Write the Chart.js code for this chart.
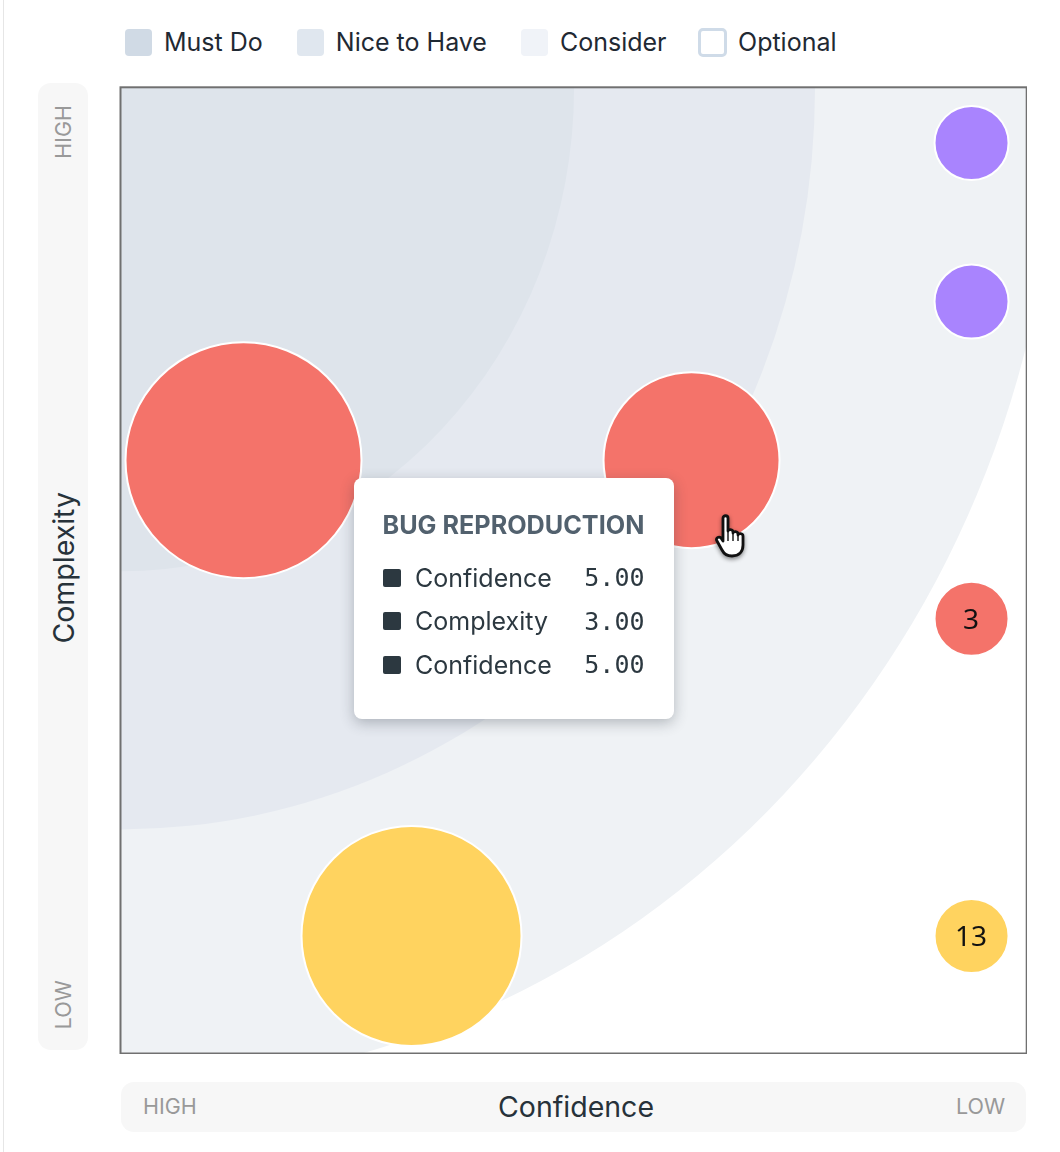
<!DOCTYPE html>
<html>
<head>
<meta charset="utf-8">
<script src="https://cdn.jsdelivr.net/npm/chart.js@4"></script>
<style>
  html, body { margin: 0; padding: 0; background: #fff; }
  body { width: 1060px; height: 1152px; position: relative; overflow: hidden; font-family: Inter, sans-serif; color: #1f2933; }
  .edge { position: absolute; left: 3px; top: 0; width: 1px; height: 1152px; background: #e6e6e6; }
  #legend { position: absolute; left: 125px; top: 28px; display: flex; height: 28px; align-items: center; font-size: 25px; }
  #legend .item { display: flex; align-items: center; margin-right: 34px; }
  #legend .item:nth-child(3) { margin-right: 32px; }
  #legend .swatch { width: 27px; height: 27px; border-radius: 4px; margin-right: 12px; box-sizing: border-box; }
  #legend .hollow { width: 29px; height: 29px; border-radius: 5px; border: 3px solid #cfdbe8; margin-left: -1px; margin-right: 11.5px; }
  .strip { position: absolute; background: #f7f7f7; border-radius: 13px; }
  #yStrip { left: 38px; top: 83px; width: 50px; height: 967px; }
  #xStrip { left: 121px; top: 1082px; width: 905px; height: 50px; }
  .end { position: absolute; font-size: 21.5px; color: #999; line-height: 26px; }
  .name { position: absolute; font-size: 28.5px; color: #27323a; line-height: 34px; white-space: nowrap; }
  .vert { writing-mode: vertical-rl; transform: rotate(180deg); }
  #chartBox { position: absolute; left: 119px; top: 86px; width: 908px; height: 968px; }
  #tip { position: absolute; width: 319.5px; height: 240.5px; box-sizing: border-box; padding: 31px 29px 30px 28.5px; background: #fff; border-radius: 8px; box-shadow: 0 4px 14px rgba(40, 50, 60, .3); display: none; }
  #tip .title { font-size: 25.2px; font-weight: 700; color: #52616e; line-height: 32px; margin-bottom: 15px; white-space: nowrap; }
  #tip .row { display: flex; align-items: center; height: 43.5px; font-size: 25px; color: #2c3840; }
  #tip .mark { width: 18px; height: 18px; border-radius: 2px; background: #2c3840; margin-right: 14.5px; }
  #tip .val { margin-left: auto; font-family: "DejaVu Sans Mono", monospace; }
  #hand { position: absolute; left: 714px; top: 514px; filter: drop-shadow(0 2px 2px rgba(0, 0, 0, .45)); }
</style>
</head>
<body>
<div class="edge"></div>
<div id="legend"></div>

<div class="strip" id="yStrip"></div>
<div class="strip" id="xStrip"></div>
<div class="end vert" style="left:50px;top:105px">HIGH</div>
<div class="end vert" style="left:50px;top:980px">LOW</div>
<div class="name vert" id="yName" style="left:47px;top:492px"></div>
<div class="end" style="left:143px;top:1093px">HIGH</div>
<div class="end" style="left:956px;top:1093px">LOW</div>
<div class="name" id="xName" style="left:498px;top:1090px"></div>

<div id="chartBox"><canvas id="chart" width="908" height="968"></canvas></div>
<div id="tip"></div>
<svg id="hand" width="36" height="44" viewBox="0 0 36 44">
  <path d="M9 4c0-3 5-3 5 0v13c0-2 5-2 5 1v1c0-2 5-2 5 1v1c0-2 5-2 5 1v9c0 7-4 11-11 11-5 0-8-2-10-6l-5-9c-2-3 2-5 4-3l2 3z" fill="#fff" stroke="#111" stroke-width="2.8" stroke-linejoin="round"/>
  <path d="M14 18v9M19 19v8M24 20v7" stroke="#111" stroke-width="1.4" fill="none"/>
</svg>

<script>
// axis names
const xAxisName = "Confidence";
const yAxisName = "Complexity";

// zones, all measured from the high/high corner of the plot
const zoneLabels = ["Must Do", "Nice to Have", "Consider", "Optional"];
const zoneReachConfidence = [6.693, 4.957, 3.236];
const zoneReachComplexity = [6.30, 4.675, 3.047];

// bubbles
const confidence = [3, 3, 8.2, 5, 3, 7, 3];
const complexity = [5, 4, 3, 3, 2, 0, 0];
const counts = [null, null, null, null, "3", null, "13"];
const priority = ["purple", "purple", "red", "red", "red", "yellow", "yellow"];

const hoveredIndex = 3;
const hoveredName = "Bug Reproduction";

// styles
const legendFill = ["#d0dae5", "#e0e7ef", "#f0f3f8", "#ffffff"];
const zoneFill = ["#eff2f5", "#e5e9f0", "#dee4eb"];
const bubbleFill = { purple: "#a984fe", red: "#f4736a", yellow: "#ffd35f" };
const radiusFor = { 3: 37, 5: 88, 7: 110, 8.2: 118 };

document.getElementById("xName").innerText = xAxisName;
document.getElementById("yName").innerText = yAxisName;

document.getElementById("legend").innerHTML = zoneLabels.map((label, i) => {
    const look = legendFill[i] === "#ffffff" ? "swatch hollow" : "swatch";
    return `<div class="item"><div class="${look}" style="background:${legendFill[i]}"></div>${label}</div>`;
}).join("");

const bubbles = confidence.map((c, i) => ({ x: c, y: complexity[i], r: radiusFor[c] }));

const zonesPlugin = {
    id: "zones",
    beforeDatasetsDraw(chart) {
        const { ctx, chartArea: a, scales: { x, y } } = chart;
        const cornerX = a.left;
        const cornerY = a.top;
        ctx.save();
        ctx.beginPath();
        ctx.rect(a.left, a.top, a.width, a.height);
        ctx.clip();
        zoneFill.forEach((fill, i) => {
            const rx = x.getPixelForValue(x.max - zoneReachConfidence[i]) - cornerX;
            const ry = y.getPixelForValue(y.max - zoneReachComplexity[i]) - cornerY;
            ctx.fillStyle = fill;
            ctx.beginPath();
            ctx.ellipse(cornerX, cornerY, rx, ry, 0, 0, Math.PI * 2);
            ctx.fill();
        });
        ctx.restore();
    }
};

const frameAndCountsPlugin = {
    id: "frameAndCounts",
    afterDatasetsDraw(chart) {
        const { ctx, chartArea: a } = chart;
        ctx.save();
        ctx.fillStyle = "#111";
        ctx.font = "28px 'Noto Sans'";
        ctx.textAlign = "center";
        ctx.textBaseline = "middle";
        chart.getDatasetMeta(0).data.forEach((pt, i) => {
            if (counts[i]) ctx.fillText(counts[i], pt.x - 0.5, pt.y + 2);
        });
        ctx.strokeStyle = "#707070";
        ctx.lineWidth = 2;
        ctx.strokeRect(a.left - 0.5, a.top - 0.7, a.width + 1.2, a.height + 1.2);
        ctx.restore();
    }
};

function renderTip({ chart, tooltip }) {
    const tip = document.getElementById("tip");
    const point = tooltip.dataPoints[0];
    const rows = [
        [xAxisName, point.raw.x],
        [yAxisName, point.raw.y],
        [xAxisName, point.raw.x]
    ];
    tip.innerHTML = `<div class="title">${hoveredName.toUpperCase()}</div>` + rows.map(([name, v]) =>
        `<div class="row"><div class="mark"></div>${name}<span class="val">${v.toFixed(2)}</span></div>`
    ).join("");
    const box = chart.canvas.parentNode;
    tip.style.left = box.offsetLeft + point.element.x - 337.5 + "px";
    tip.style.top = box.offsetTop + point.element.y + 18 + "px";
    tip.style.display = "block";
}

const chart = new Chart(document.getElementById("chart"), {
    type: "bubble",
    data: {
        datasets: [{
            label: hoveredName,
            data: bubbles,
            backgroundColor: priority.map(p => bubbleFill[p]),
            borderColor: "#fff",
            borderWidth: 2
        }]
    },
    options: {
        responsive: false,
        animation: false,
        events: [],
        layout: { autoPadding: false, padding: { left: 2, top: 2, right: 1, bottom: 1 } },
        scales: {
            x: { display: false, reverse: true, min: 2.611, max: 9.075 },
            y: { display: false, min: -0.738, max: 5.347 }
        },
        plugins: {
            legend: { display: false },
            tooltip: { enabled: false, external: renderTip }
        }
    },
    plugins: [zonesPlugin, frameAndCountsPlugin]
});

chart.tooltip.setActiveElements([{ datasetIndex: 0, index: hoveredIndex }], { x: 0, y: 0 });
</script>
</body>
</html>
